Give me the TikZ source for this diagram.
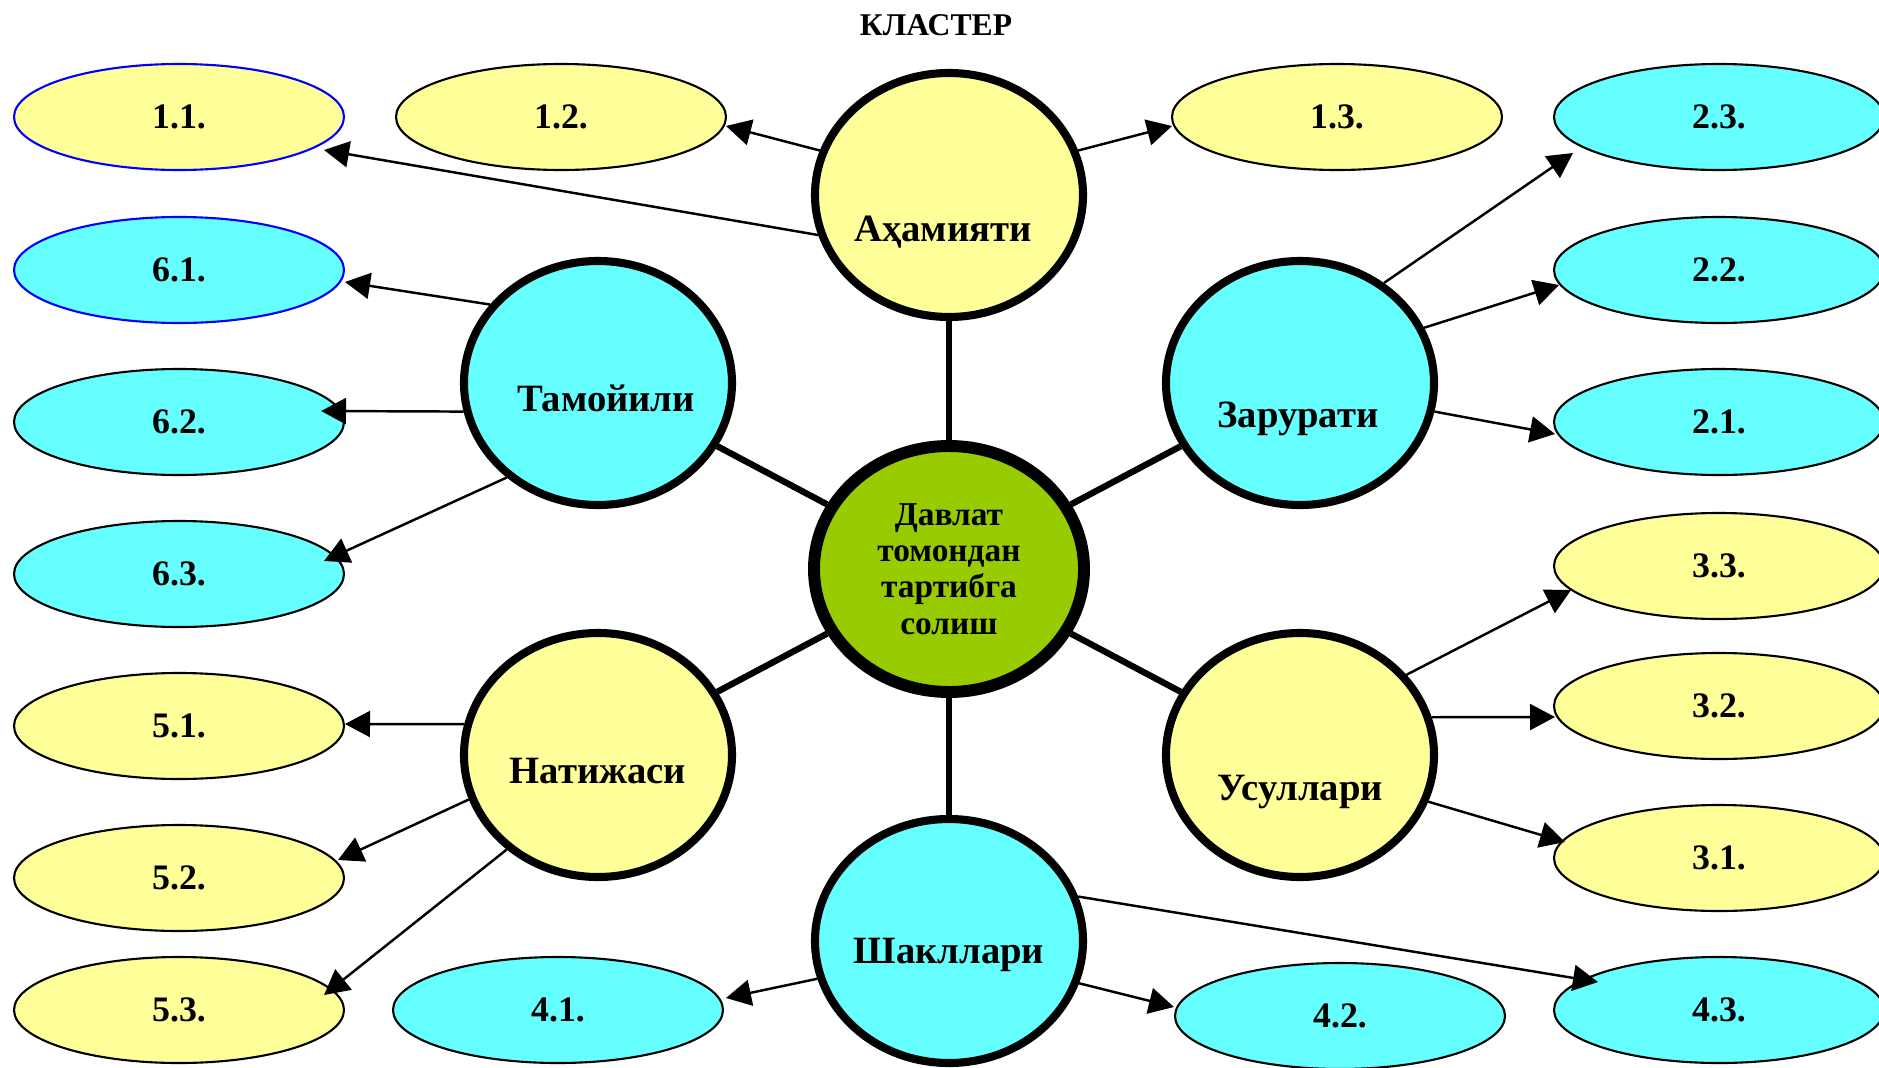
\documentclass[tikz,border=0pt]{standalone}
\usepackage{fontspec}
\setmainfont{Liberation Serif}
\definecolor{clyellow}{HTML}{FFFF99}
\definecolor{clcyan}{HTML}{66FFFF}
\definecolor{clgreen}{HTML}{99CC00}
\usetikzlibrary{arrows.meta, positioning, shapes.geometric, calc}

\begin{document}
\begin{tikzpicture}[
  hub/.style={ellipse, draw, line width=2.3pt, minimum width=2.68cm, minimum height=2.44cm, inner sep=0pt},
  core/.style={ellipse, draw, line width=3.4pt, fill=clgreen, minimum width=2.70cm, minimum height=2.46cm, inner sep=0pt, align=center, font=\fontsize{9.5}{10.3}\selectfont\bfseries},
  leaf/.style={ellipse, draw, line width=0.6pt, minimum width=3.30cm, minimum height=1.06cm, font=\fontsize{10.2}{12}\selectfont\bfseries},
  hl/.style={font=\fontsize{11}{13}\selectfont\bfseries, inner sep=0pt},
  spoke/.style={line width=1.8pt},
  arr/.style={-{Triangle[length=0.25cm, width=0.26cm]}, line width=0.7pt},
]
  \useasboundingbox (0,0) rectangle (18.79,-10.68);

  \node[font=\fontsize{9}{11}\selectfont\bfseries] (title) at (9.36,-0.25) {КЛАСТЕР};

  % hubs
  \node[core] (c) at (9.49,-5.69) {Давлат\\томондан\\тартибга\\солиш};
  \node[hub, fill=clyellow, label={[hl, xshift=-0.06cm, yshift=-0.37cm]center:Аҳамияти}] (ah) at (9.49,-1.95) {};
  \node[hub, fill=clcyan, label={[hl, xshift=0.08cm, yshift=-0.15cm]center:Тамойили}] (tam) at (5.98,-3.83) {};
  \node[hub, fill=clcyan, label={[hl, xshift=-0.02cm, yshift=-0.36cm]center:Зарурати}] (zar) at (13.00,-3.83) {};
  \node[hub, fill=clyellow, label={[hl, yshift=-0.16cm]center:Натижаси}] (nat) at (5.98,-7.55) {};
  \node[hub, fill=clyellow, label={[hl, yshift=-0.37cm]center:Усуллари}] (us) at (13.00,-7.55) {};
  \node[hub, fill=clcyan, label={[hl, yshift=-0.14cm]center:Шакллари}] (sh) at (9.49,-9.41) {};

  % leaves
  \node[leaf, fill=clyellow, draw=blue] (e11) at (1.79,-1.17) {1.1.};
  \node[leaf, fill=clyellow] (e12) at (5.61,-1.17) {1.2.};
  \node[leaf, fill=clyellow] (e13) at (13.37,-1.17) {1.3.};
  \node[leaf, fill=clcyan] (e23) at (17.19,-1.17) {2.3.};
  \node[leaf, fill=clcyan, draw=blue] (e61) at (1.79,-2.70) {6.1.};
  \node[leaf, fill=clcyan] (e22) at (17.19,-2.70) {2.2.};
  \node[leaf, fill=clcyan] (e62) at (1.79,-4.22) {6.2.};
  \node[leaf, fill=clcyan] (e21) at (17.19,-4.22) {2.1.};
  \node[leaf, fill=clcyan] (e63) at (1.79,-5.74) {6.3.};
  \node[leaf, fill=clyellow] (e33) at (17.19,-5.66) {3.3.};
  \node[leaf, fill=clyellow] (e51) at (1.79,-7.26) {5.1.};
  \node[leaf, fill=clyellow] (e32) at (17.19,-7.06) {3.2.};
  \node[leaf, fill=clyellow] (e52) at (1.79,-8.78) {5.2.};
  \node[leaf, fill=clyellow] (e31) at (17.19,-8.58) {3.1.};
  \node[leaf, fill=clyellow] (e53) at (1.79,-10.10) {5.3.};
  \node[leaf, fill=clcyan] (e41) at (5.58,-10.10) {4.1.};
  \node[leaf, fill=clcyan] (e42) at (13.40,-10.16) {4.2.};
  \node[leaf, fill=clcyan] (e43) at (17.19,-10.10) {4.3.};

  % spokes
  \draw[spoke] (c) -- (ah);
  \draw[spoke] (c) -- (tam);
  \draw[spoke] (c) -- (zar);
  \draw[spoke] (c) -- (nat);
  \draw[spoke] (c) -- (us);
  \draw[spoke] (c) -- (sh);

  % arrows
  \draw[arr] (ah.161) -- ([shift={(1.65,-0.09)}]e12.center);
  \draw[arr] (ah.197) -- ([shift={(1.45,-0.33)}]e11.center);
  \draw[arr] (ah.19) -- ([shift={(-1.65,-0.09)}]e13.center);
  \draw[arr] (zar.50) -- ([shift={(-1.46,-0.36)}]e23.center);
  \draw[arr] (zar.24) -- ([shift={(-1.60,-0.15)}]e22.center);
  \draw[arr] (zar.-12) -- ([shift={(-1.64,-0.12)}]e21.center);
  \draw[arr] (tam.144) -- ([shift={(1.66,-0.12)}]e61.center);
  \draw[arr] (tam.192) -- ([shift={(1.42,0.11)}]e62.center);
  \draw[arr] (tam.226) -- ([shift={(1.45,0.13)}]e63.center);
  \draw[arr] (us.37) -- ([shift={(-1.48,-0.24)}]e33.center);
  \draw[arr] (us.16) -- ([shift={(-1.64,-0.11)}]e32.center);
  \draw[arr] (us.-20) -- ([shift={(-1.54,0.16)}]e31.center);
  \draw[arr] (nat.167) -- ([shift={(1.66,0.02)}]e51.center);
  \draw[arr] (nat.199) -- ([shift={(1.59,0.18)}]e52.center);
  \draw[arr] (nat.226) -- ([shift={(1.45,0.15)}]e53.center);
  \draw[arr] (sh.196) -- ([shift={(1.68,0.12)}]e41.center);
  \draw[arr] (sh.-18) -- ([shift={(-1.66,0.09)}]e42.center);
  \draw[arr] (sh.19) -- ([shift={(-1.21,0.28)}]e43.center);
\end{tikzpicture}
\end{document}
